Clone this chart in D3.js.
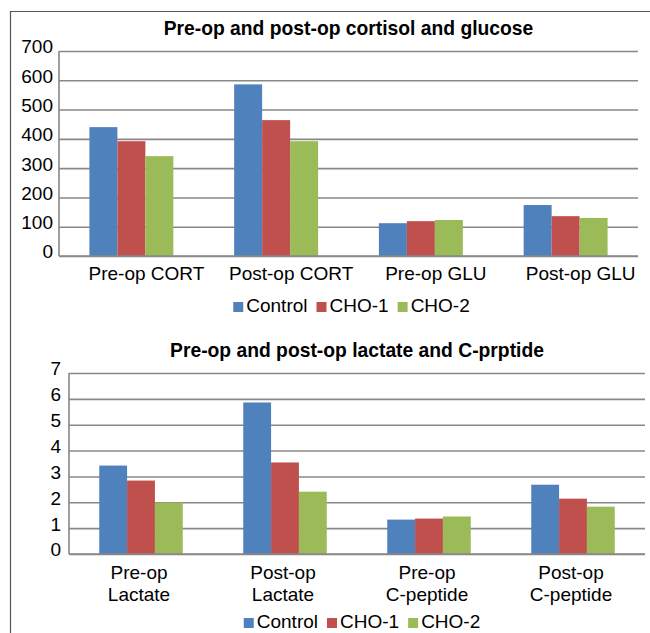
<!DOCTYPE html>
<html>
<head>
<meta charset="utf-8">
<script src="https://cdn.jsdelivr.net/npm/d3@7"></script>
<style>
  body { margin: 0; background: #fff; }
  text { font-family: Arial, "Liberation Sans", sans-serif; fill: #000; }
</style>
</head>
<body>
<div class="charts"></div>
<script>
// series shared by both panels
var seriesNames = ["Control", "CHO-1", "CHO-2"];
var seriesColors = ["#4F81BD", "#C0504D", "#9BBB59"];

// top panel: cortisol and glucose
var cortTitle = "Pre-op and post-op cortisol and glucose";
var cortCategories = ["Pre-op CORT", "Post-op CORT", "Pre-op GLU", "Post-op GLU"];
var cortControl = [440, 586, 112, 174];
var cortCho1 = [392, 464, 119, 136];
var cortCho2 = [341, 392, 123, 130];
var cortTicks = [0, 100, 200, 300, 400, 500, 600, 700];

// bottom panel: lactate and C-peptide
var lacTitle = "Pre-op and post-op lactate and C-prptide";
var lacCategories = ["Pre-op\nLactate", "Post-op\nLactate", "Pre-op\nC-peptide", "Post-op\nC-peptide"];
var lacControl = [3.42, 5.86, 1.33, 2.68];
var lacCho1 = [2.84, 3.54, 1.37, 2.14];
var lacCho2 = [1.99, 2.41, 1.45, 1.83];
var lacTicks = [0, 1, 2, 3, 4, 5, 6, 7];

var W = 650, H = 633;

var svg = d3.select(".charts")
  .append("svg")
  .attr("width", W)
  .attr("height", H);

// outer frame (only left and top edges visible)
svg.append("path")
  .attr("d", "M10.5," + H + "V11.5H" + W)
  .attr("fill", "none")
  .attr("stroke", "#555")
  .attr("stroke-width", 1.2);

function buildRows(categories, values) {
  return categories.map(function(c, i) {
    return { cat: c, vals: values.map(function(v, j) { return { key: seriesNames[j], value: v[i] }; }) };
  });
}

function drawChart(cfg) {
  var width = cfg.right - cfg.left;
  var height = cfg.bottom - cfg.top;
  var g = svg.append("g")
    .attr("transform", "translate(" + cfg.left + "," + cfg.top + ")");

  var rows = buildRows(cfg.categories, cfg.values);

  var y = d3.scaleLinear()
    .domain([0, d3.max(cfg.ticks)])
    .range([height, 0]);

  var x0 = d3.scaleBand()
    .domain(cfg.categories)
    .range([0, width])
    .padding(0);

  var gap = x0.bandwidth() * 0.21;
  var x1 = d3.scaleBand()
    .domain(seriesNames)
    .range([gap, x0.bandwidth() - gap]);

  var z = d3.scaleOrdinal()
    .domain(seriesNames)
    .range(seriesColors);

  // title
  g.append("text")
    .attr("x", width / 2)
    .attr("y", cfg.titleY - cfg.top)
    .attr("text-anchor", "middle")
    .style("font-size", "19.3px")
    .style("font-weight", "bold")
    .text(cfg.title);

  // y axis with gridlines
  g.append("g")
    .style("font-size", "19px")
    .call(d3.axisLeft(y)
      .tickValues(cfg.ticks)
      .tickSize(-width)
      .tickPadding(cfg.tickPad)
      .tickFormat(d3.format("d")))
    .call(function(a) { a.select(".domain").remove(); })
    .call(function(a) { a.selectAll(".tick line")
      .attr("stroke", "#888")
      .attr("stroke-width", 1.6); })
    .call(function(a) { a.selectAll(".tick text")
      .attr("dy", "0.1em")
      .attr("fill", "#000")
      .style("font-family", "Arial, 'Liberation Sans', sans-serif"); });

  // vertical axis line
  g.append("line")
    .attr("x1", 0).attr("x2", 0)
    .attr("y1", 0).attr("y2", height)
    .attr("stroke", "#888")
    .attr("stroke-width", 1.6);

  // bars
  var groups = g.selectAll(".bar")
    .data(rows)
    .enter()
    .append("g")
    .attr("class", "bar")
    .attr("transform", function(d) { return "translate(" + x0(d.cat) + ",0)"; });

  groups.selectAll("rect")
    .data(function(d) { return d.vals; })
    .enter()
    .append("rect")
    .attr("x", function(d) { return x1(d.key); })
    .attr("y", function(d) { return y(d.value); })
    .attr("width", x1.bandwidth())
    .attr("height", function(d) { return height - y(d.value); })
    .attr("fill", function(d) { return z(d.key); });

  // baseline redrawn over bars
  g.append("line")
    .attr("x1", 0).attr("x2", width)
    .attr("y1", height).attr("y2", height)
    .attr("stroke", "#888")
    .attr("stroke-width", 1.6);

  // category labels
  var xAxis = g.append("g")
    .attr("transform", "translate(0," + height + ")")
    .style("font-size", "19px")
    .call(d3.axisBottom(x0).tickSize(0).tickFormat(""))
    .call(function(a) { a.select(".domain").remove(); });

  xAxis.selectAll(".tick").each(function(d) {
    var lines = d.split("\n");
    var t = d3.select(this).append("text")
      .attr("fill", "#000")
      .attr("text-anchor", "middle")
      .style("font-family", "Arial, 'Liberation Sans', sans-serif");
    lines.forEach(function(line, i) {
      t.append("tspan")
        .attr("x", cfg.labelDx)
        .attr("y", cfg.labelY - cfg.bottom + i * 22)
        .text(line);
    });
  });

  // legend
  var legend = g.append("g")
    .style("font-size", "19px")
    .attr("transform", "translate(0," + (cfg.legendY - cfg.top) + ")");

  var items = legend.selectAll("g")
    .data(seriesNames)
    .enter()
    .append("g");

  items.append("rect")
    .attr("y", -10)
    .attr("width", 10)
    .attr("height", 10)
    .attr("fill", function(d) { return z(d); });

  items.append("text")
    .attr("x", 13)
    .attr("y", 0)
    .text(function(d) { return d; });

  var offsets = [], cursor = 0;
  items.each(function() {
    var w = d3.select(this).select("text").node().getComputedTextLength();
    offsets.push(cursor);
    cursor += 13 + w + 9;
  });
  var total = cursor - 9;
  var start = width / 2 + cfg.legendShift - total / 2;
  items.attr("transform", function(d, i) { return "translate(" + (start + offsets[i]) + ",0)"; });
}

drawChart({
  title: cortTitle,
  categories: cortCategories,
  values: [cortControl, cortCho1, cortCho2],
  ticks: cortTicks,
  left: 59, right: 638, top: 51, bottom: 256,
  titleY: 35, labelY: 280, labelDx: 15, legendY: 312, legendShift: 3, tickPad: 6
});

drawChart({
  title: lacTitle,
  categories: lacCategories,
  values: [lacControl, lacCho1, lacCho2],
  ticks: lacTicks,
  left: 69, right: 645, top: 373, bottom: 554,
  titleY: 357, labelY: 579, labelDx: -2, legendY: 628, legendShift: 5, tickPad: 8
});
</script>
</body>
</html>
